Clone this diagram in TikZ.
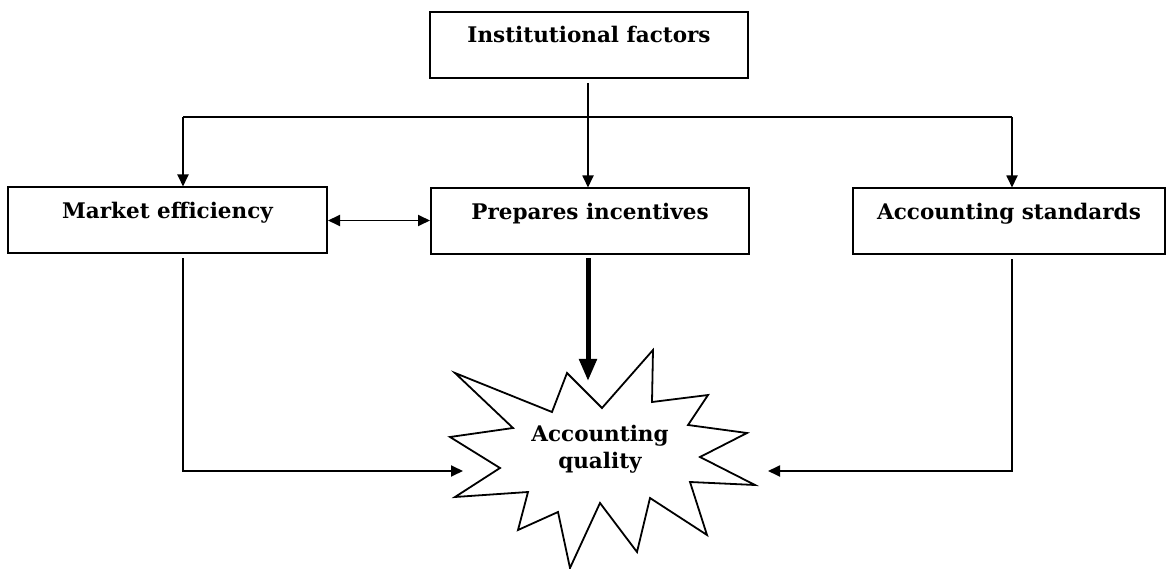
\documentclass[tikz,border=0pt]{standalone}
\usepackage{fontspec}
\setmainfont{DejaVu Serif}
\usetikzlibrary{arrows.meta}

\tikzset{
    factorbox/.style={draw, black, line width=2pt, inner xsep=0pt, inner ysep=0pt,
        minimum width=#1, text height=31pt, text depth=35pt,
        font=\fontsize{21.5}{24}\selectfont\bfseries},
    link/.style={black, line width=1.8pt},
    tip/.style={-{Triangle[length=12pt,width=11pt]}}
}

\begin{document}
\begin{tikzpicture}[x=1pt, y=-1pt]
            \useasboundingbox (0,0) rectangle (1173,569);

            \node[factorbox=318pt, anchor=base] (inst) at (589,43) {Institutional factors};
            \node[factorbox=319pt] (market) at (167.5,220.5) {Market efficiency};
            \node[factorbox=318pt] (prep) at (590,221.5) {Prepares incentives};
            \node[factorbox=312pt] (std) at (1009,221.5) {Accounting standards};

            % the burst round the quality label
            \draw[black, line width=1.8pt, fill=white]
                (455,373) -- (552,412) -- (567,373) -- (602,408) -- (653,350) -- (652,402)
                -- (708,395) -- (688,425) -- (747,433) -- (700,457) -- (755,485) -- (690,482)
                -- (707,535) -- (650,498) -- (637,552) -- (600,503) -- (570,568) -- (558,512)
                -- (518,530) -- (528,492) -- (455,497) -- (500,468) -- (450,437) -- (513,428)
                -- cycle;
            \node[align=center, font=\fontsize{21.5}{27}\selectfont\bfseries] (quality) at (600,449) {Accounting\\quality};

            \coordinate (busL) at (183,117);
            \coordinate (busR) at (1012,117);
            \coordinate (qT) at (588,381);
            \coordinate (qL) at (463,471);
            \coordinate (qR) at (768,471);

            \draw[link, tip] ([yshift=-4pt]inst.south -| qT) -- (prep.north -| qT);
            \draw[link] (busL) -- (busR);
            \draw[link, tip] (busL) -- (market.north -| busL);
            \draw[link, tip] (busR) -- (std.north -| busR);

            \draw[link, {Triangle[length=12pt,width=11pt]}-{Triangle[length=12pt,width=11pt]}] (market.east) -- (market.east -| prep.west);

            \draw[black, line width=5pt, -{Triangle[length=22pt,width=17pt]}] ([yshift=-3pt]prep.south -| qT) -- (qT);

            \draw[link, tip] ([yshift=-4pt]market.south -| busL) |- (qL);
            \draw[link, tip] ([yshift=-4pt]std.south -| busR) |- (qR);
        \end{tikzpicture}
\end{document}
